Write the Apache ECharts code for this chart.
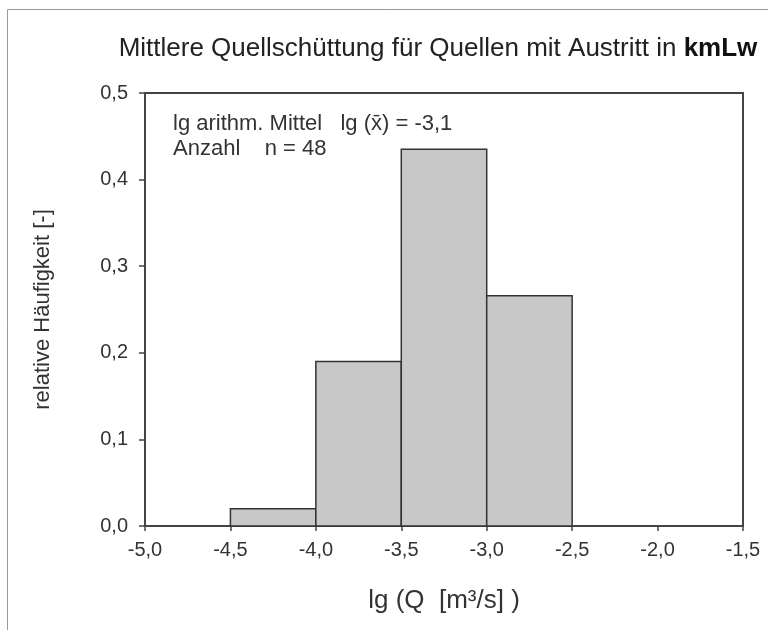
<!DOCTYPE html>
<html>
<head>
<meta charset="utf-8">
<script src="https://cdn.jsdelivr.net/npm/echarts@6/dist/echarts.min.js"></script>
<style>
  html, body { margin: 0; padding: 0; background: #fff; }
  #chart { width: 768px; height: 630px; }
</style>
</head>
<body>
<div id="chart"></div>
<script>
// histogram classes (lg Q) and relative frequencies
let binStart = [-4.5, -4.0, -3.5, -3.0];
let binEnd = [-4.0, -3.5, -3.0, -2.5];
let relFreq = [0.02, 0.19, 0.435, 0.266];

let meanLg = '-3,1';
let count = 48;

let barData = [];
for (let i = 0; i < relFreq.length; i++) {
    barData.push([binStart[i], binEnd[i], relFreq[i]]);
}

let fmt = function (v) {
    return v.toFixed(1).replace('.', ',');
};

let option = {
    backgroundColor: '#fff',
    animation: false,
    textStyle: { fontFamily: 'Liberation Sans, Arial, sans-serif' },
    title: {
        text: '{n|Mittlere Quellschüttung für Quellen mit Austritt in }{b|kmLw}',
        left: 433,
        top: 31,
        textAlign: 'center',
        textStyle: {
            rich: {
                n: { fontSize: 26, color: '#222', fontWeight: 'normal', fontFamily: 'Liberation Sans' },
                b: { fontSize: 26, color: '#111', fontWeight: 'bold', fontFamily: 'Liberation Sans' }
            }
        }
    },
    grid: {
        left: 145,
        right: 25,
        top: 93,
        bottom: 104,
        show: true,
        borderColor: '#444',
        borderWidth: 2,
        backgroundColor: '#fff'
    },
    xAxis: {
        type: 'value',
        min: -5,
        max: -1.5,
        interval: 0.5,
        name: 'lg (Q  [m³/s] )',
        nameLocation: 'middle',
        nameGap: 62,
        nameTextStyle: { fontSize: 26, color: '#333' },
        splitLine: { show: false },
        axisLine: { show: true, onZero: false, lineStyle: { color: '#444', width: 2 } },
        axisTick: { show: true, inside: false, length: 5, lineStyle: { color: '#444', width: 1.5 } },
        axisLabel: { fontSize: 20, color: '#333', margin: 14, formatter: fmt }
    },
    yAxis: {
        type: 'value',
        min: 0,
        max: 0.5,
        interval: 0.1,
        name: 'relative Häufigkeit [-]',
        nameLocation: 'middle',
        nameRotate: 90,
        nameGap: 91,
        nameTextStyle: { fontSize: 22, color: '#333' },
        splitLine: { show: false },
        axisLine: { show: true, lineStyle: { color: '#444', width: 2 } },
        axisTick: { show: true, inside: false, length: 6, lineStyle: { color: '#444', width: 1.5 } },
        axisLabel: { fontSize: 20, color: '#333', margin: 17, formatter: fmt }
    },
    graphic: [
        {
            type: 'rect',
            left: 5, top: 7,
            shape: { width: 800, height: 700 },
            style: { fill: 'none', stroke: '#999', lineWidth: 1 },
            z: -10
        },
        {
            type: 'text',
            left: 173,
            top: 111,
            style: {
                text: 'lg arithm. Mittel   lg (x\u0304) = ' + meanLg + '\nAnzahl    n = ' + count,
                fontSize: 22,
                lineHeight: 25,
                fill: '#333',
                fontFamily: 'Liberation Sans'
            }
        }
    ],
    series: [
        {
            type: 'custom',
            data: barData,
            encode: { x: [0, 1], y: 2 },
            renderItem: function (params, api) {
                let p0 = api.coord([api.value(0), 0]);
                let p1 = api.coord([api.value(1), api.value(2)]);
                return {
                    type: 'rect',
                    shape: { x: p0[0], y: p1[1], width: p1[0] - p0[0], height: p0[1] - p1[1] },
                    style: { fill: '#c8c8c8', stroke: '#333', lineWidth: 1.5 }
                };
            }
        }
    ]
};

let chart = echarts.init(document.getElementById('chart'));
chart.setOption(option);
</script>
</body>
</html>
